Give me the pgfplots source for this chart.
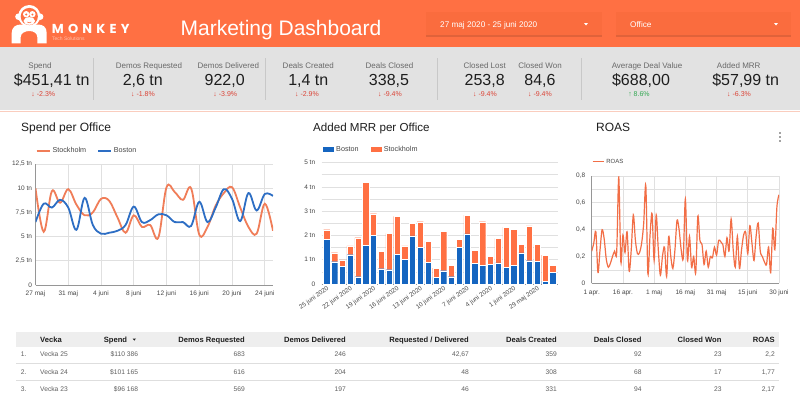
\documentclass[border=0pt]{standalone}
\usepackage{pgfplots}
\pgfplotsset{compat=1.18}
\usepackage{fontspec}
\setmainfont{Liberation Sans}
\newfontfamily\poppins{Poppins}
\definecolor{hdr}{RGB}{255,112,67}
\definecolor{dd}{RGB}{250,108,62}
\definecolor{band}{RGB}{226,226,226}
\definecolor{sep}{RGB}{200,200,200}
\definecolor{kpilab}{RGB}{105,105,105}
\definecolor{kpival}{RGB}{30,30,30}
\definecolor{neg}{RGB}{219,68,55}
\definecolor{pos}{RGB}{52,168,83}
\definecolor{stock}{RGB}{240,125,88}
\definecolor{bost}{RGB}{45,110,196}
\definecolor{mrrblue}{RGB}{21,101,192}
\definecolor{mrrorange}{RGB}{255,112,67}
\definecolor{roas}{RGB}{242,110,70}
\definecolor{gridc}{RGB}{224,224,224}
\definecolor{axisc}{RGB}{150,150,150}
\definecolor{tickc}{RGB}{70,70,70}
\definecolor{pinkl}{RGB}{250,205,190}
\definecolor{thead}{RGB}{238,238,238}
\definecolor{tbody}{RGB}{95,95,95}
\definecolor{tline}{RGB}{222,222,222}
\newcommand\fs[1]{\fontsize{#1}{#1}\selectfont}
\newcommand\ls{\hspace{4.2pt}}
\newcommand\kpi[7]{%
  \node[anchor=base, inner sep=0, text=kpilab, font=\fs{8}] at (#1,68) {#2};
  \node[anchor=base, inner sep=0, text=kpival, font=\fs{16}] at (#3,85) {#4};
  \node[anchor=base, inner sep=0, text=#7, font=\fs{7}] at (#5,96.5) {#6};}
\newcommand\trow[9]{%
  \node[anchor=base west, inner sep=0, text=tbody, font=\fs{6.7}] at (20.7,#1) {#2};
  \node[anchor=base west, inner sep=0, text=tbody, font=\fs{6.7}] at (40,#1) {#3};
  \node[anchor=base east, inner sep=0, text=tbody, font=\fs{6.7}] at (138.3,#1) {#4};
  \node[anchor=base east, inner sep=0, text=tbody, font=\fs{6.7}] at (245,#1) {#5};
  \node[anchor=base east, inner sep=0, text=tbody, font=\fs{6.7}] at (346,#1) {#6};
  \node[anchor=base east, inner sep=0, text=tbody, font=\fs{6.7}] at (469,#1) {#7};
  \node[anchor=base east, inner sep=0, text=tbody, font=\fs{6.7}] at (557,#1) {#8};
  \node[anchor=base east, inner sep=0, text=tbody, font=\fs{6.7}] at (641.7,#1) {#9};}
\newcommand\trowb[3]{%
  \node[anchor=base east, inner sep=0, text=tbody, font=\fs{6.7}] at (721.7,#1) {#2};
  \node[anchor=base east, inner sep=0, text=tbody, font=\fs{6.7}] at (775,#1) {#3};}
\begin{document}
\begin{tikzpicture}
\useasboundingbox (0,0) rectangle (800pt,-397pt);
\begin{scope}[x=1pt,y=-1pt]
\fill[white] (0,0) rectangle (800,397);
\fill[hdr] (0,0) rectangle (800,47);
\fill[band] (0,47) rectangle (800,110);
\draw[pinkl, line width=1pt] (0,111) -- (800,111);
% logo
\fill[white] (11.7,43.3) -- (11.7,33) .. controls (11.7,27) and (16,24.5) .. (21,24.5) -- (38,24.5) .. controls (43,24.5) and (46.7,27) .. (46.7,33) -- (46.7,43.3) -- (37.3,43.3) -- (37.3,37) .. controls (37.3,33.5) and (34,31) .. (29.3,31) .. controls (24.6,31) and (20.7,33.5) .. (20.7,37) -- (20.7,43.3) -- cycle;
\fill[white] (18.5,16.7) circle (3.3);
\fill[white] (40.1,16.7) circle (3.3);
\fill[white] (29.3,16) circle (11);
\fill[hdr] (29.3,16.5) circle (8.6);
\fill[white] (26.2,14.2) circle (3.2);
\fill[white] (32.4,14.2) circle (3.2);
\fill[white] (29.3,21) ellipse (5.8 and 3.8);
\fill[hdr] (26.2,14.5) circle (1.1);
\fill[hdr] (32.4,14.5) circle (1.1);
\draw[hdr, line width=0.6pt] (27.3,22) .. controls (28.5,23) and (30.1,23) .. (31.3,22);
\node[anchor=west, inner sep=0, text=white, font=\poppins\bfseries\fs{13}] at (51.7,28.7) {M\ls O\ls N\ls K\ls E\ls Y};
\node[anchor=west, inner sep=0, text=white, opacity=0.55, font=\fs{5}] at (52,38.3) {Tech Solutions};
% title
\node[anchor=base, inner sep=0, text=white, font=\fs{21}] at (281,35.5) {Marketing Dashboard};
% dropdowns
\fill[black, opacity=0.12] (426,13.5) rectangle (602,36.5);
\fill[dd] (426,12) rectangle (602,35);
\node[anchor=base west, inner sep=0, text=white, font=\fs{8.2}] at (440,27) {27 maj 2020 - 25 juni 2020};
\fill[white] (584,23) -- (588,23) -- (586,25.5) -- cycle;
\fill[black, opacity=0.12] (616,13.5) rectangle (791,36.5);
\fill[dd] (616,12) rectangle (791,35);
\node[anchor=base west, inner sep=0, text=white, font=\fs{8.2}] at (630,27) {Office};
\fill[white] (774,23) -- (778,23) -- (776,25.5) -- cycle;
% KPI
\foreach \xx in {93,265,437,581} {\draw[sep, line width=0.7pt] (\xx,58) -- (\xx,100);}
\kpi{40}{Spend}{51.7}{\$451,41 tn}{43.3}{↓ -2.3\%}{neg}
\kpi{149}{Demos Requested}{142.8}{2,6 tn}{143}{↓ -1.8\%}{neg}
\kpi{228.3}{Demos Delivered}{224.7}{922,0}{225.3}{↓ -3.9\%}{neg}
\kpi{308.3}{Deals Created}{308.3}{1,4 tn}{307}{↓ -2.9\%}{neg}
\kpi{389.5}{Deals Closed}{389}{338,5}{390}{↓ -9.4\%}{neg}
\kpi{484.7}{Closed Lost}{484.7}{253,8}{485}{↓ -9.4\%}{neg}
\kpi{540}{Closed Won}{540}{84,6}{540}{↓ -9.4\%}{neg}
\kpi{647}{Average Deal Value}{641}{\$688,00}{639}{↑ 8.6\%}{pos}
\kpi{738.7}{Added MRR}{745.7}{\$57,99 tn}{739}{↓ -6.3\%}{neg}
% chart titles
\node[anchor=base west, inner sep=0, text=kpival, font=\fs{12}] at (21,131.3) {Spend per Office};
\node[anchor=base west, inner sep=0, text=kpival, font=\fs{11.6}] at (313,131.3) {Added MRR per Office};
\node[anchor=base west, inner sep=0, text=kpival, font=\fs{12}] at (596,131.3) {ROAS};
\foreach \yy in {133,137,141} {\fill[tickc] (780,\yy) circle (0.9);}
% table
\fill[thead] (16,332) rectangle (779,347);
\node[anchor=base west, inner sep=0, text=kpival, font=\bfseries\fs{7.6}] at (40,342.2) {Vecka};
\node[anchor=base east, inner sep=0, text=kpival, font=\bfseries\fs{7.6}] at (127.3,342.2) {Spend};
\fill[kpival] (132.6,338.5) -- (136,338.5) -- (134.3,340.6) -- cycle;
\node[anchor=base east, inner sep=0, text=kpival, font=\bfseries\fs{7.6}] at (245,342.2) {Demos Requested};
\node[anchor=base east, inner sep=0, text=kpival, font=\bfseries\fs{7.6}] at (346,342.2) {Demos Delivered};
\node[anchor=base east, inner sep=0, text=kpival, font=\bfseries\fs{7.6}] at (469,342.2) {Requested / Delivered};
\node[anchor=base east, inner sep=0, text=kpival, font=\bfseries\fs{7.6}] at (557,342.2) {Deals Created};
\node[anchor=base east, inner sep=0, text=kpival, font=\bfseries\fs{7.6}] at (641.7,342.2) {Deals Closed};
\node[anchor=base east, inner sep=0, text=kpival, font=\bfseries\fs{7.6}] at (721.7,342.2) {Closed Won};
\node[anchor=base east, inner sep=0, text=kpival, font=\bfseries\fs{7.6}] at (775,342.2) {ROAS};
\draw[tline, line width=0.6pt] (16,363.3) -- (779,363.3);
\draw[tline, line width=0.6pt] (16,380.7) -- (779,380.7);
\trow{356.7}{1.}{Vecka 25}{\$110 386}{683}{246}{42,67}{359}{92}
\trowb{356.7}{23}{2,2}
\trow{374.1}{2.}{Vecka 24}{\$101 165}{616}{204}{48}{308}{68}
\trowb{374.1}{17}{1,77}
\trow{391.4}{3.}{Vecka 23}{\$96 168}{569}{197}{46}{331}{94}
\trowb{391.4}{23}{2,17}
\end{scope}

% ---------- Spend per Office ----------
\begin{axis}[
  at={(35.5pt,-164pt)}, anchor=north west, scale only axis,
  width=237.5pt, height=121pt,
  xmin=0, xmax=29, ymin=0, ymax=12.5,
  xtick={0,4,...,28}, xticklabels={27 maj,31 maj,4 juni,8 juni,12 juni,16 juni,20 juni,24 juni},
  ytick={0,2.5,5,7.5,10,12.5}, yticklabels={0,{2,5 tn},5 tn,{7,5 tn},10 tn,{12,5 tn}},
  xmajorgrids, ymajorgrids, major grid style={draw=gridc, line width=0.7pt},
  axis lines=left, axis line style={-, draw=axisc, line width=0.8pt},
  major tick length=0pt,
  tick label style={font=\fs{6.5}, text=tickc},
  xticklabel style={yshift=-2.5pt},
  legend style={at={(0,1)}, anchor=west, yshift=13pt, draw=none, fill=none, inner sep=0pt, font=\fs{7.2}, text=tickc, legend columns=2, /tikz/every even column/.append style={column sep=9pt}},
  legend image code/.code={\draw[#1, line width=1.8pt] (0pt,0pt) -- (13pt,0pt);},
]
\addplot[stock, line width=1.8pt, smooth, tension=0.6] coordinates {
(0,10.0) (1,5.5) (2,9.7) (3,8.5) (4,9.9) (5,8.3) (6,7.2) (7,7.5) (8,8.9) (9,8.7)
(10,7.0) (11,5.4) (12,7.2) (13,6.0) (14,6.2) (15,4.9) (16,10.1) (17,9.6) (18,8.8) (19,10.0)
(20,5.2) (21,6.0) (22,8.2) (23,9.5) (24,10.1) (25,8.0) (26,6.0) (27,5.3) (28,8.4) (29,5.6)};
\addlegendentry{Stockholm}
\addplot[bost, line width=1.8pt, smooth, tension=0.6] coordinates {
(0,6.5) (1,8.4) (2,8.0) (3,8.8) (4,8.0) (5,5.7) (6,9.0) (7,6.2) (8,5.3) (9,5.4)
(10,5.6) (11,6.2) (12,8.1) (13,6.5) (14,6.7) (15,7.3) (16,7.2) (17,6.5) (18,6.5) (19,6.1)
(20,8.6) (21,6.5) (22,8.0) (23,9.9) (24,8.9) (25,6.6) (26,9.5) (27,7.7) (28,9.4) (29,9.2)};
\addlegendentry{Boston}
\end{axis}

% ---------- Added MRR per Office ----------
\begin{axis}[
  at={(321.7pt,-162.7pt)}, anchor=north west, scale only axis,
  width=236pt, height=121.3pt,
  xmin=-0.65, xmax=29.65, ymin=0, ymax=5,
  ybar stacked, bar width=6.3pt,
  xtick={0,3,...,27},
  xticklabels={25 juni 2020,22 juni 2020,19 juni 2020,16 juni 2020,13 juni 2020,10 juni 2020,7 juni 2020,4 juni 2020,1 juni 2020,29 maj 2020},
  xticklabel style={rotate=35, anchor=north east, inner sep=1pt, font=\fs{6.3}},
  ytick={0,1,2,3,4,5}, yticklabels={0,1 tn,2 tn,3 tn,4 tn,5 tn},
  minor ytick={0.5,1.5,2.5,3.5,4.5},
  ymajorgrids, yminorgrids,
  major grid style={draw=gridc, line width=0.7pt}, minor grid style={draw=gridc, line width=0.7pt},
  axis lines=left, axis line style={-, draw=axisc, line width=0.8pt},
  y axis line style={draw=none},
  major tick length=0pt, minor tick length=0pt,
  tick label style={font=\fs{6.5}, text=tickc},
  yticklabel style={xshift=-3pt},
  legend style={at={(0,1)}, anchor=west, yshift=13.2pt, draw=none, fill=none, inner sep=0pt, font=\fs{7.2}, text=tickc, legend columns=2, /tikz/every even column/.append style={column sep=9pt}},
  legend image code/.code={\fill[#1] (0pt,-3pt) rectangle (12pt,3pt);},
]
\addplot[fill=mrrblue, draw=white, line width=0.3pt] coordinates {
(0,1.85) (1,0.92) (2,0.74) (3,1.21) (4,0.30) (5,1.59) (6,2.00) (7,0.63) (8,0.59) (9,1.22)
(10,1.02) (11,1.98) (12,1.51) (13,0.89) (14,0.27) (15,0.55) (16,0.30) (17,1.50) (18,2.07) (19,0.85)
(20,0.76) (21,0.82) (22,0.87) (23,0.69) (24,0.76) (25,1.28) (26,0.96) (27,0.93) (28,0.12) (29,0.48)};
\addlegendentry{Boston}
\addplot[fill=mrrorange, draw=white, line width=0.3pt] coordinates {
(0,0.39) (1,0.37) (2,0.25) (3,0.36) (4,1.61) (5,2.59) (6,0.90) (7,0.73) (8,1.50) (9,1.57)
(10,0.55) (11,0.53) (12,1.06) (13,0.88) (14,0.38) (15,1.63) (16,0.47) (17,0.35) (18,0.77) (19,0.55)
(20,1.81) (21,0.31) (22,1.01) (23,1.65) (24,1.49) (25,0.35) (26,1.44) (27,0.70) (28,1.07) (29,0.29)};
\addlegendentry{Stockholm}
\end{axis}

% ---------- ROAS ----------
\begin{axis}[
  at={(591.7pt,-176pt)}, anchor=north west, scale only axis,
  width=187.3pt, height=107.3pt,
  xmin=0, xmax=90, ymin=0, ymax=0.8,
  xtick={0,15,...,90}, xticklabels={1 apr.,16 apr.,1 maj,16 maj,31 maj,15 juni,30 juni},
  ytick={0,0.2,0.4,0.6,0.8}, yticklabels={0,{0,2},{0,4},{0,6},{0,8}},
  minor ytick={0.1,0.3,0.5,0.7},
  xmajorgrids, ymajorgrids, yminorgrids,
  major grid style={draw=gridc, line width=0.7pt}, minor grid style={draw=gridc, line width=0.7pt},
  axis lines=left, axis line style={-, draw=axisc, line width=0.8pt},
  major tick length=0pt, minor tick length=0pt,
  tick label style={font=\fs{6.5}, text=tickc},
  xticklabel style={yshift=-3pt},
  yticklabel style={xshift=-3pt},
  legend style={at={(0,1)}, anchor=west, yshift=14.3pt, draw=none, fill=none, inner sep=0pt, font=\fs{6}, text=tickc},
  legend image code/.code={\draw[#1, line width=1.4pt] (0pt,0pt) -- (11pt,0pt);},
]
\addplot[roas, line width=1.2pt, smooth, tension=0.5] coordinates {
(0,0.24) (1,0.30) (2,0.385) (3,0.08) (4,0.25) (5,0.40) (6,0.33) (7,0.18) (8,0.12) (9,0.15)
(10,0.20) (11,0.24) (12,0.23) (13,0.79) (14,0.16) (15,0.36) (16,0.23) (17,0.385) (18,0.09) (19,0.25)
(20,0.51) (21,0.32) (22,0.22) (23,0.23) (24,0.30) (25,0.45) (26,0.73) (27,0.07) (28,0.35) (29,0.52)
(30,0.17) (31,0.51) (32,0.25) (33,0.06) (34,0.20) (35,0.27) (36,0.05) (37,0.35) (38,0.20) (39,0.11)
(40,0.25) (41,0.47) (42,0.40) (43,0.25) (44,0.19) (45,0.63) (46,0.17) (47,0.35) (48,0.12) (49,0.20)
(50,0.08) (51,0.50) (52,0.32) (53,0.29) (54,0.14) (55,0.24) (56,0.12) (57,0.20) (58,0.19) (59,0.27)
(60,0.21) (61,0.32) (62,0.31) (63,0.29) (64,0.20) (65,0.34) (66,0.24) (67,0.48) (68,0.25) (69,0.12)
(70,0.35) (71,0.11) (72,0.25) (73,0.36) (74,0.38) (75,0.22) (76,0.43) (77,0.30) (78,0.17) (79,0.35)
(80,0.45) (81,0.24) (82,0.20) (83,0.16) (84,0.14) (85,0.27) (86,0.08) (87,0.41) (88,0.25) (89,0.57)
(90,0.66)};
\addlegendentry{ROAS}
\end{axis}
\end{tikzpicture}
\end{document}
